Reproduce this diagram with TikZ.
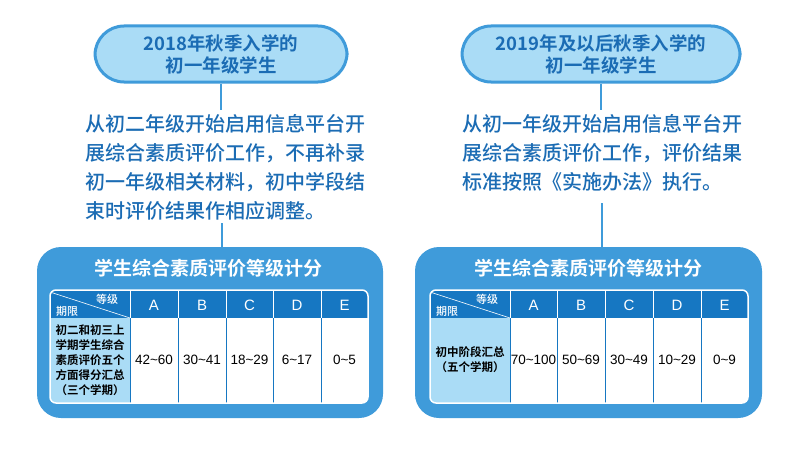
\documentclass[tikz,border=0pt]{standalone}
\usepackage{fontspec}
\setmainfont{Liberation Sans}
\newfontfamily\cjk{Noto Sans CJK SC Bold}
\newfontfamily\cjkm{Noto Sans CJK SC Medium}
\definecolor{boxblue}{HTML}{3F9BDA}
\definecolor{headblue}{HTML}{1677C2}
\definecolor{paleblue}{HTML}{AADCF6}
\definecolor{inkblue}{HTML}{1B6CB4}
\tikzset{
  pill/.style={draw=boxblue, line width=3pt, fill=paleblue, rounded corners=29pt,
    minimum width=#1, minimum height=56pt, align=center, text=inkblue,
    font=\cjk\fontsize{18.5}{22}\selectfont},
  bodytext/.style={anchor=north west, inner sep=0pt, align=left, text=inkblue,
    font=\cjkm\fontsize{20}{29}\selectfont},
  link/.style={draw=boxblue, line width=1.5pt},
  cell/.style={draw=white, line width=1pt},
  hdr/.style={text=white, font=\fontsize{15}{17}\selectfont},
  num/.style={text=black, font=\fontsize{13.5}{17}\selectfont},
}
\begin{document}
\begin{tikzpicture}[x=1pt, y=-1pt]
    \useasboundingbox[fill=white] (0,0) rectangle (800,452);

    % headers
    \node[pill=252pt] (pillL) at (221,54) {2018年秋季入学的\\初一年级学生};
    \node[pill=278pt] (pillR) at (601,54) {2019年及以后秋季入学的\\初一年级学生};

    % texts
    \node[bodytext] (txtL) at (85,114) {从初二年级开始启用信息平台开\\展综合素质评价工作，不再补录\\初一年级相关材料，初中学段结\\束时评价结果作相应调整。};
    \node[bodytext] (txtR) at (462,114) {从初一年级开始启用信息平台开\\展综合素质评价工作，评价结果\\标准按照《实施办法》执行。};

    % table boxes
    \fill[boxblue, rounded corners=24pt] (37,247) rectangle (383,418);
    \fill[boxblue, rounded corners=24pt] (415,247) rectangle (762,418);
    \coordinate (boxL) at (222,247);
    \coordinate (boxR) at (602,247);
    \node[text=white, font=\cjk\fontsize{19}{22}\selectfont] (titleL) at (208,268) {学生综合素质评价等级计分};
    \node[text=white, font=\cjk\fontsize{19}{22}\selectfont] (titleR) at (588,268) {学生综合素质评价等级计分};

    \draw[link] (pillL.south) -- ([yshift=4pt]txtL.north -| pillL.south);
    \draw[link] (pillR.south) -- ([yshift=4pt]txtR.north -| pillR.south);
    \draw[link] ([yshift=-3pt]txtL.south -| boxL) -- (boxL);
    \draw[link] ([yshift=-12pt]txtR.south -| boxR) -- (boxR);

    % left table
    \fill[white, rounded corners=6pt] (50,290) rectangle (368,403);
    \begin{scope}
        \clip[rounded corners=6pt] (50,290) rectangle (368,403);
        \fill[headblue] (50,290) rectangle (368,318);
        \fill[paleblue] (50,318) rectangle (130,403);
        \foreach \xa/\xb/\g/\v in {130/178/A/42\textasciitilde60, 178/226/B/30\textasciitilde41,
            226/273/C/18\textasciitilde29, 273/321/D/6\textasciitilde17, 321/368/E/0\textasciitilde5} {
            \draw[cell] (\xa,290) -- (\xa,403);
            \draw[headblue, line width=1pt] (\xa,318) -- (\xa,403);
            \node[hdr] at ({(\xa+\xb)/2},305) {\g};
            \node[num] at ({(\xa+\xb)/2},360) {\v};
        }
        \draw[white, line width=0.6pt] (50,292) -- (130,318);
    \end{scope}
    \draw[white, line width=1.5pt, rounded corners=6pt] (50,290) rectangle (368,403);
    \node[text=white, font=\cjkm\fontsize{11}{12}\selectfont] at (107,299) {等级};
    \node[text=white, font=\cjkm\fontsize{11}{12}\selectfont] at (67,311) {期限};
    \node[text=black, align=center, font=\cjk\fontsize{11.5}{15}\selectfont] at (90,360)
        {初二和初三上\\学期学生综合\\素质评价五个\\方面得分汇总\\（三个学期）};

    % right table
    \fill[white, rounded corners=6pt] (430,290) rectangle (748,403);
    \begin{scope}
        \clip[rounded corners=6pt] (430,290) rectangle (748,403);
        \fill[headblue] (430,290) rectangle (748,318);
        \fill[paleblue] (430,318) rectangle (510,403);
        \foreach \xa/\xb/\g/\v in {510/557/A/70\textasciitilde100, 557/605/B/50\textasciitilde69,
            605/653/C/30\textasciitilde49, 653/701/D/10\textasciitilde29, 701/748/E/0\textasciitilde9} {
            \draw[cell] (\xa,290) -- (\xa,403);
            \draw[headblue, line width=1pt] (\xa,318) -- (\xa,403);
            \node[hdr] at ({(\xa+\xb)/2},305) {\g};
            \node[num] at ({(\xa+\xb)/2},360) {\v};
        }
        \draw[white, line width=0.6pt] (430,292) -- (510,318);
    \end{scope}
    \draw[white, line width=1.5pt, rounded corners=6pt] (430,290) rectangle (748,403);
    \node[text=white, font=\cjkm\fontsize{11}{12}\selectfont] at (487,299) {等级};
    \node[text=white, font=\cjkm\fontsize{11}{12}\selectfont] at (447,311) {期限};
    \node[text=black, align=center, font=\cjk\fontsize{11.5}{15}\selectfont] at (470,360)
        {初中阶段汇总\\（五个学期）};

\end{tikzpicture}
\end{document}
